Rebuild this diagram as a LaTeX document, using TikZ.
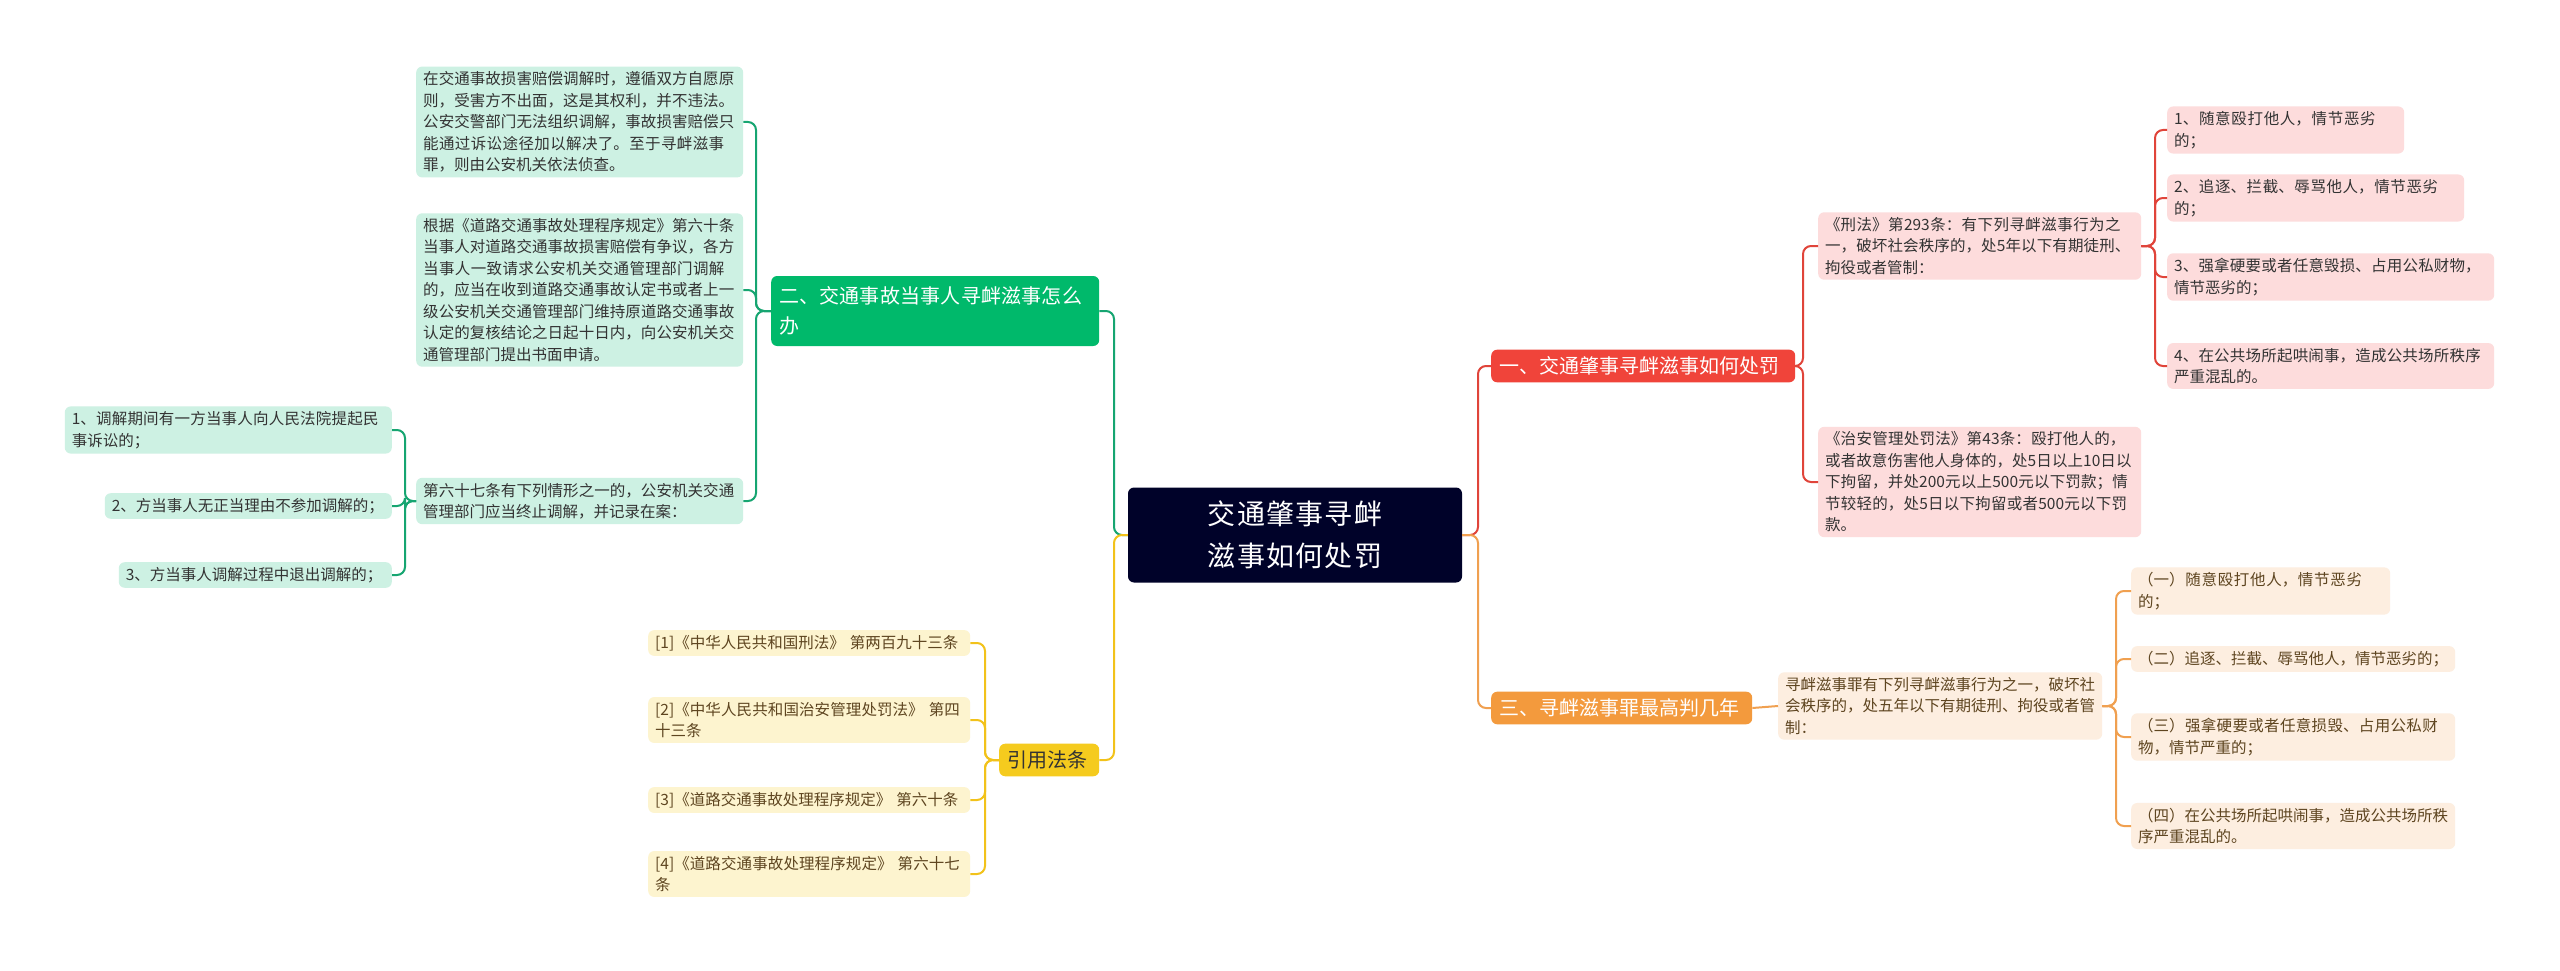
\documentclass[tikz,border=0pt]{standalone}
\usepackage{fontspec}
\setmainfont{Noto Sans CJK SC}
\XeTeXlinebreaklocale "zh"
\XeTeXlinebreakskip=0pt plus 1pt
\begin{document}
\begin{tikzpicture}[x=1pt,y=-1pt,
 box/.style={rounded corners=6pt,align=left,inner xsep=7pt,inner ysep=5pt,anchor=west,font=\fontsize{15.5}{21.5}\selectfont},
 gbox/.style={box,fill=gfill,text=txt},
 rbox/.style={box,fill=rfill,text=txt},
 obox/.style={box,fill=ofill,text=otxt},
 ybox/.style={box,fill=yfill,text=otxt},
 br/.style={rounded corners=6pt,align=left,inner xsep=8pt,inner ysep=7pt,anchor=west,font=\fontsize{20}{30}\selectfont,text=white},
 gl/.style={draw=gline,line width=2pt,rounded corners=8pt},
 rl/.style={draw=rline,line width=2pt,rounded corners=8pt},
 ol/.style={draw=oline,line width=2pt,rounded corners=8pt},
 yl/.style={draw=yline,line width=2pt,rounded corners=8pt}]
\definecolor{gfill}{HTML}{CDF1E3}\definecolor{rfill}{HTML}{FDDCDC}
\definecolor{ofill}{HTML}{FDEEE0}\definecolor{yfill}{HTML}{FDF4CF}
\definecolor{txt}{HTML}{333333}\definecolor{otxt}{HTML}{5E4520}
\definecolor{gline}{HTML}{16A571}\definecolor{rline}{HTML}{E0443A}
\definecolor{oline}{HTML}{F0A050}\definecolor{yline}{HTML}{F2C21A}
\definecolor{rootc}{HTML}{000229}\definecolor{gbr}{HTML}{00B96B}
\definecolor{rbr}{HTML}{F0443A}\definecolor{obr}{HTML}{F39A3D}\definecolor{ybr}{HTML}{F5CB1E}
\useasboundingbox (0,0) rectangle (2560,971);
\fill[white] (0,0) rectangle (2560,971);
% root
\node[rounded corners=6pt,fill=rootc,text=white,align=center,text width=318pt,inner xsep=8pt,minimum height=95pt,font=\fontsize{28}{42}\selectfont] (root) at (1295,535) {交通肇事寻衅滋事如何处罚};
% branches
\node[br,fill=rbr,text width=288pt] (b1) at (1491,366) {一、交通肇事寻衅滋事如何处罚};
\node[br,fill=obr,text width=245pt,text=white] (b3) at (1491,708) {三、寻衅滋事罪最高判几年};
\node[br,fill=gbr,text width=312pt,minimum height=70pt] (b2) at (771,311) {二、交通事故当事人寻衅滋事怎么办};
\node[br,fill=ybr,text=txt,text width=84pt] (b4) at (999,760) {引用法条};
% red
\node[rbox,text width=309pt] (r1) at (1818,246) {《刑法》第293条：有下列寻衅滋事行为之一，破坏社会秩序的，处5年以下有期徒刑、拘役或者管制：};
\node[rbox,text width=309pt] (r2) at (1818,482) {《治安管理处罚法》第43条：殴打他人的，或者故意伤害他人身体的，处5日以上10日以下拘留，并处200元以上500元以下罚款；情节较轻的，处5日以下拘留或者500元以下罚款。};
\node[rbox,text width=223pt] (r11) at (2167,130) {1、随意殴打他人，情节恶劣的；};
\node[rbox,text width=283pt] (r12) at (2167,198) {2、追逐、拦截、辱骂他人，情节恶劣的；};
\node[rbox,text width=313pt] (r13) at (2167,277) {3、强拿硬要或者任意毁损、占用公私财物，情节恶劣的；};
\node[rbox,text width=313pt] (r14) at (2167,366) {4、在公共场所起哄闹事，造成公共场所秩序严重混乱的。};
% orange
\node[obox,text width=310pt] (o1) at (1778,706) {寻衅滋事罪有下列寻衅滋事行为之一，破坏社会秩序的，处五年以下有期徒刑、拘役或者管制：};
\node[obox,text width=245pt] (o11) at (2131,591) {（一）随意殴打他人，情节恶劣的；};
\node[obox,text width=310pt] (o12) at (2131,659) {（二）追逐、拦截、辱骂他人，情节恶劣的；};
\node[obox,text width=310pt] (o13) at (2131,737) {（三）强拿硬要或者任意损毁、占用公私财物，情节严重的；};
\node[obox,text width=310pt] (o14) at (2131,826) {（四）在公共场所起哄闹事，造成公共场所秩序严重混乱的。};
% green
\node[gbox,text width=313pt] (g1) at (416,122) {在交通事故损害赔偿调解时，遵循双方自愿原则，受害方不出面，这是其权利，并不违法。公安交警部门无法组织调解，事故损害赔偿只能通过诉讼途径加以解决了。至于寻衅滋事罪，则由公安机关依法侦查。};
\node[gbox,text width=313pt] (g2) at (416,290) {根据《道路交通事故处理程序规定》第六十条当事人对道路交通事故损害赔偿有争议，各方当事人一致请求公安机关交通管理部门调解的，应当在收到道路交通事故认定书或者上一级公安机关交通管理部门维持原道路交通事故认定的复核结论之日起十日内，向公安机关交通管理部门提出书面申请。};
\node[gbox,text width=313pt] (g3) at (416,501) {第六十七条有下列情形之一的，公安机关交通管理部门应当终止调解，并记录在案：};
\node[gbox,text width=313pt,anchor=east] (g31) at (392,430) {1、调解期间有一方当事人向人民法院提起民事诉讼的；};
\node[gbox,text width=273pt,anchor=east] (g32) at (392,506) {2、方当事人无正当理由不参加调解的；};
\node[gbox,text width=259pt,anchor=east] (g33) at (392,575) {3、方当事人调解过程中退出调解的；};
% yellow
\node[ybox,text width=308pt] (y1) at (648,643) {[1]《中华人民共和国刑法》 第两百九十三条};
\node[ybox,text width=308pt] (y2) at (648,720) {[2]《中华人民共和国治安管理处罚法》 第四十三条};
\node[ybox,text width=308pt] (y3) at (648,800) {[3]《道路交通事故处理程序规定》 第六十条};
\node[ybox,text width=308pt] (y4) at (648,874) {[4]《道路交通事故处理程序规定》 第六十七条};
% buses
\coordinate (rb) at (1478,0);\coordinate (lb) at (1114,0);
\coordinate (rcb) at (1803,0);\coordinate (rsb) at (2155,0);
\coordinate (osb) at (2116,0);\coordinate (gcb) at (756,0);
\coordinate (gsb) at (405,0);\coordinate (ycb) at (985,0);
% connectors
\draw[rl] (root.east) -- (root.east -| rb) |- (b1.west);
\draw[ol] (root.east) -- (root.east -| rb) |- (b3.west);
\draw[gl] (root.west) -- (root.west -| lb) |- (b2.east);
\draw[yl] (root.west) -- (root.west -| lb) |- (b4.east);
\foreach \c in {r1,r2} \draw[rl] (b1.east) -- (b1.east -| rcb) |- (\c.west);
\foreach \c in {r11,r12,r13,r14} \draw[rl] (r1.east) -- (r1.east -| rsb) |- (\c.west);
\draw[ol] (b3.east) -- (o1.west);
\foreach \c in {o11,o12,o13,o14} \draw[ol] (o1.east) -- (o1.east -| osb) |- (\c.west);
\foreach \c in {g1,g2,g3} \draw[gl] (b2.west) -- (b2.west -| gcb) |- (\c.east);
\foreach \c in {g31,g32,g33} \draw[gl] (g3.west) -- (g3.west -| gsb) |- (\c.east);
\foreach \c in {y1,y2,y3,y4} \draw[yl] (b4.west) -- (b4.west -| ycb) |- (\c.east);
\end{tikzpicture}
\end{document}
